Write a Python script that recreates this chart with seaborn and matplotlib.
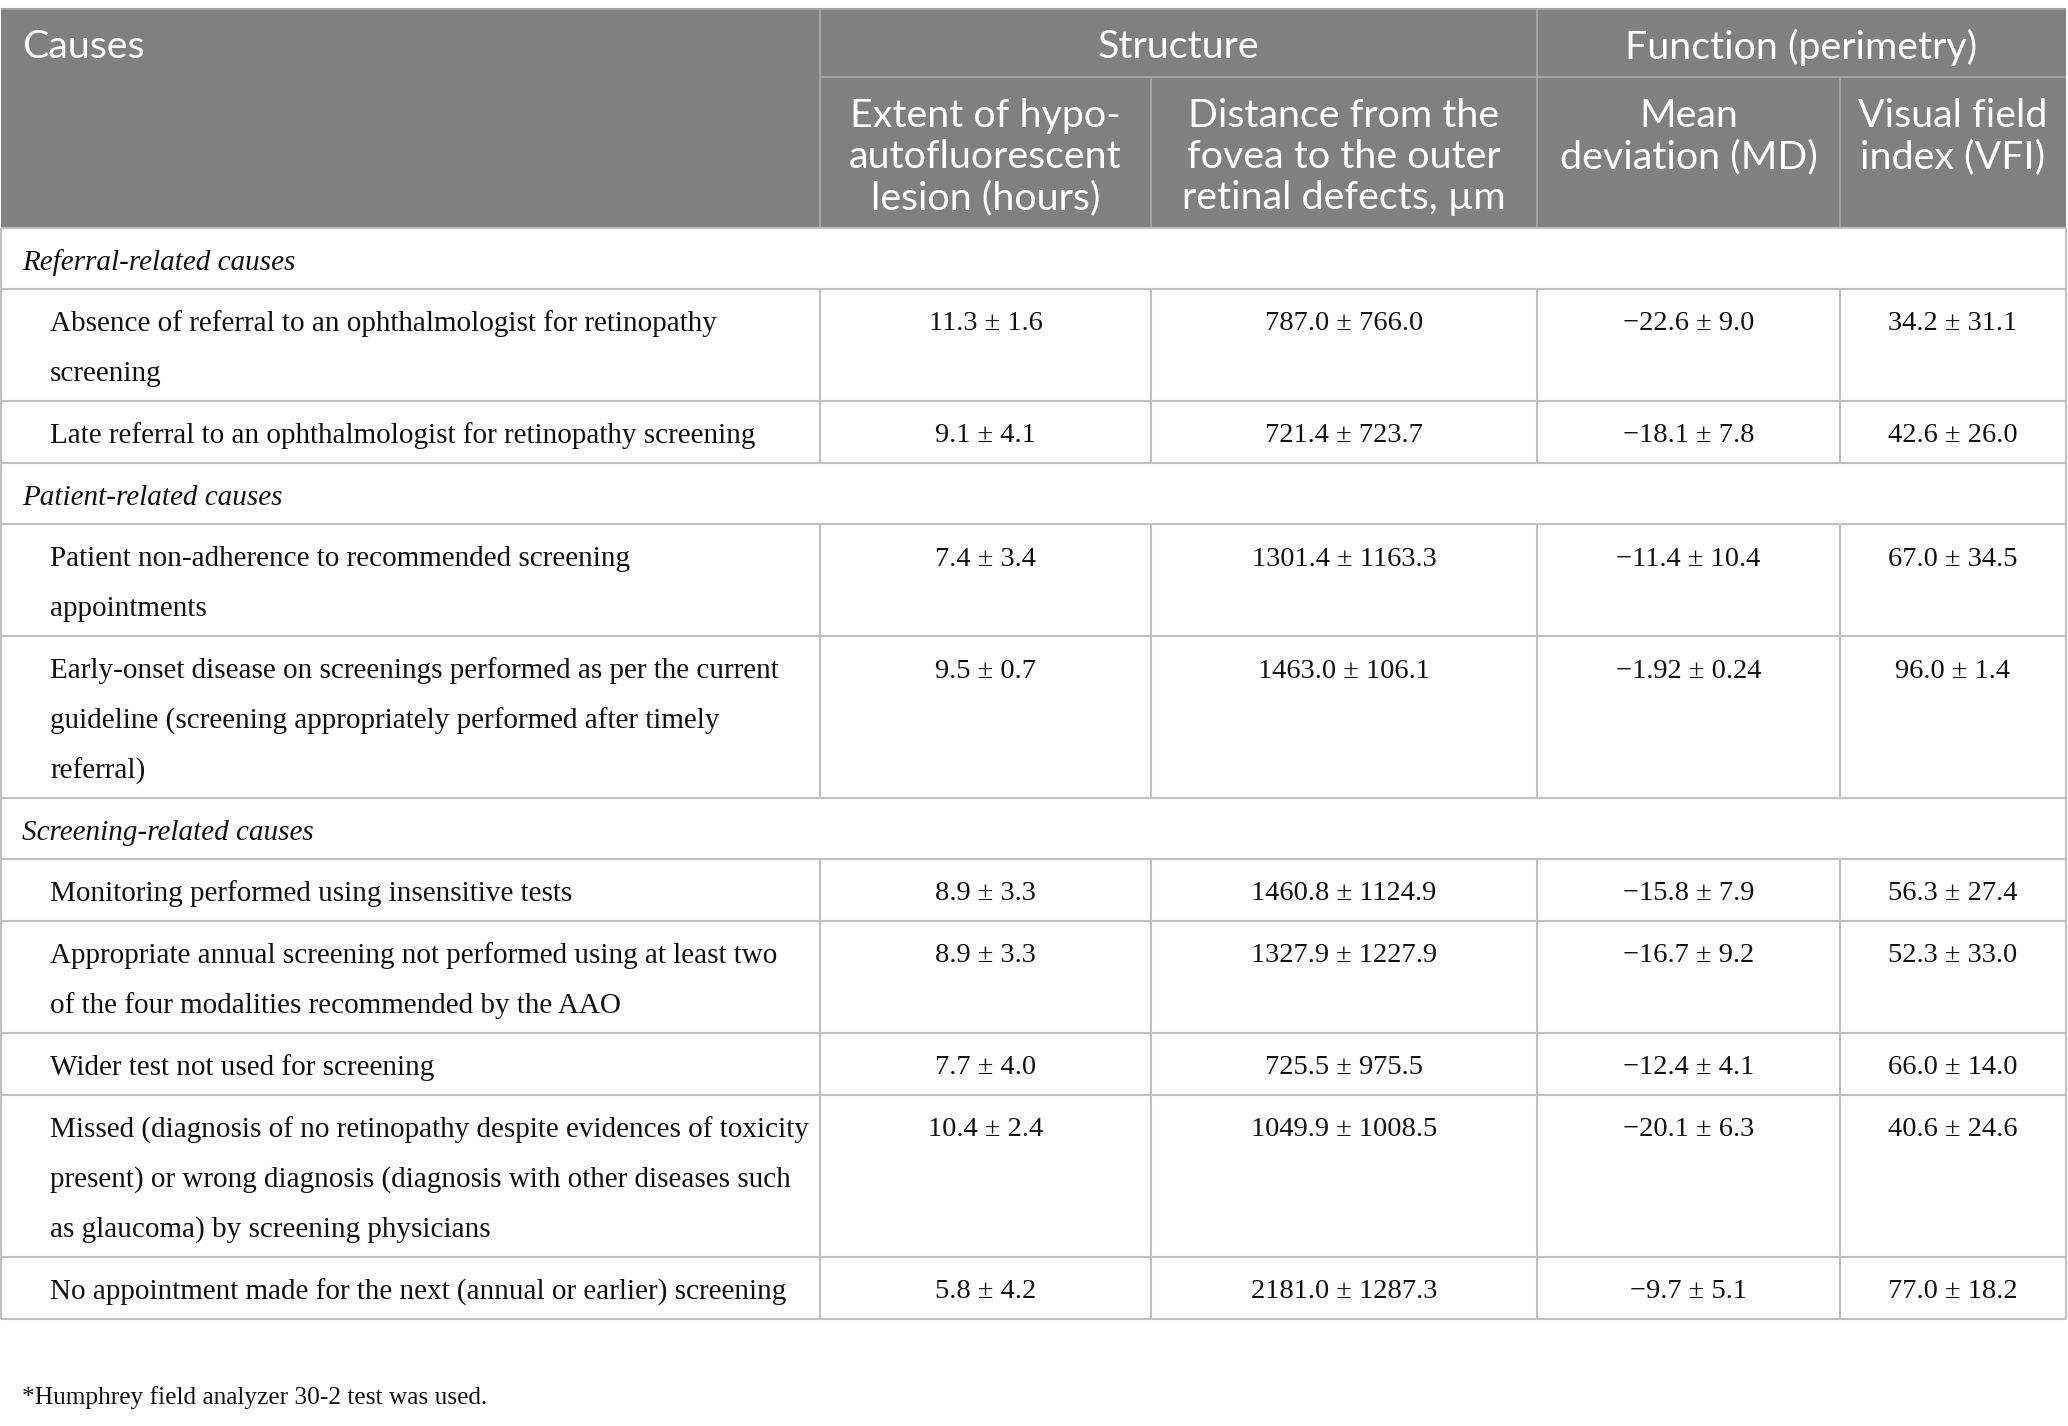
import matplotlib
matplotlib.use("Agg")
import matplotlib.pyplot as plt
import seaborn as sns
from matplotlib.patches import Rectangle

# ---------------- data ----------------
group_header = ["Structure", "Function (perimetry)"]
col_headers = ["Causes",
               "Extent of hypo-\nautofluorescent\nlesion (hours)",
               "Distance from the\nfovea to the outer\nretinal defects, µm",
               "Mean\ndeviation (MD)",
               "Visual field\nindex (VFI)"]
sections = ["Referral-related causes", "Patient-related causes", "Screening-related causes"]
section_of_row = [0, 0, 1, 1, 2, 2, 2, 2, 2]
causes = [
    "Absence of referral to an ophthalmologist for retinopathy\nscreening",
    "Late referral to an ophthalmologist for retinopathy screening",
    "Patient non-adherence to recommended screening\nappointments",
    "Early-onset disease on screenings performed as per the current\nguideline (screening appropriately performed after timely\nreferral)",
    "Monitoring performed using insensitive tests",
    "Appropriate annual screening not performed using at least two\nof the four modalities recommended by the AAO",
    "Wider test not used for screening",
    "Missed (diagnosis of no retinopathy despite evidences of toxicity\npresent) or wrong diagnosis (diagnosis with other diseases such\nas glaucoma) by screening physicians",
    "No appointment made for the next (annual or earlier) screening",
]
extent = ["11.3 ± 1.6", "9.1 ± 4.1", "7.4 ± 3.4", "9.5 ± 0.7", "8.9 ± 3.3",
          "8.9 ± 3.3", "7.7 ± 4.0", "10.4 ± 2.4", "5.8 ± 4.2"]
distance = ["787.0 ± 766.0", "721.4 ± 723.7", "1301.4 ± 1163.3", "1463.0 ± 106.1",
            "1460.8 ± 1124.9", "1327.9 ± 1227.9", "725.5 ± 975.5", "1049.9 ± 1008.5",
            "2181.0 ± 1287.3"]
mean_dev = ["−22.6 ± 9.0", "−18.1 ± 7.8", "−11.4 ± 10.4", "−1.92 ± 0.24", "−15.8 ± 7.9",
            "−16.7 ± 9.2", "−12.4 ± 4.1", "−20.1 ± 6.3", "−9.7 ± 5.1"]
vfi = ["34.2 ± 31.1", "42.6 ± 26.0", "67.0 ± 34.5", "96.0 ± 1.4", "56.3 ± 27.4",
       "52.3 ± 33.0", "66.0 ± 14.0", "40.6 ± 24.6", "77.0 ± 18.2"]
footnote = "*Humphrey field analyzer 30-2 test was used."

# ---------------- layout / style ----------------
W, H = 2068, 1426
col_edges = [1, 820, 1151, 1537, 1840, 2066]
table_top, header_mid, header_bot = 9, 77, 228
line_h = 50
base_row_h = 62
first_line_off = 35
header_fill = "#808080"
header_line = "#a3a3a3"
grid_col = "#c0c0c0"
text_col = "#111111"
sans = ["Lato", "DejaVu Sans"]
serif = ["Liberation Serif", "DejaVu Serif"]
hdr_fs = 28.4
body_fs = 21
value_fs = 20.5

sns.set_theme(style="white")
plt.rcParams["font.family"] = serif

fig = plt.figure(figsize=(W / 100, H / 100), dpi=100)
ax = fig.add_axes([0, 0, 1, 1])
ax.set_xlim(0, W)
ax.set_ylim(H, 0)
ax.axis("off")

# header block
ax.add_patch(Rectangle((col_edges[0], table_top), col_edges[-1] - col_edges[0],
                       header_bot - table_top, facecolor=header_fill, edgecolor="none"))
ax.hlines(header_mid, col_edges[1], col_edges[-1], color=header_line, lw=1.5)
ax.vlines(col_edges[1], table_top, header_bot, color=header_line, lw=1.5)
ax.vlines(col_edges[3], table_top, header_bot, color=header_line, lw=1.5)
ax.vlines([col_edges[2], col_edges[4]], header_mid, header_bot, color=header_line, lw=1.5)
ax.hlines(table_top, col_edges[0], col_edges[-1], color=header_line, lw=1.5)

hdr_y = (table_top + header_mid) / 2 + 4
ax.text(22, hdr_y, col_headers[0], color="white", fontsize=hdr_fs, family=sans,
        ha="left", va="center")
ax.text((col_edges[1] + col_edges[3]) / 2, hdr_y, group_header[0], color="white",
        fontsize=hdr_fs, family=sans, ha="center", va="center")
ax.text((col_edges[3] + col_edges[5]) / 2, hdr_y, group_header[1], color="white",
        fontsize=hdr_fs, family=sans, ha="center", va="center")
for c in range(1, 5):
    cx = (col_edges[c] + col_edges[c + 1]) / 2
    for i, ln in enumerate(col_headers[c].split("\n")):
        ax.text(cx, header_mid + 39 + 41 * i, ln, color="white", fontsize=hdr_fs,
                family=sans, ha="center", va="center")

# body rows
y = header_bot
hlines_y = [header_bot]
prev_sec = -1
for r, cause in enumerate(causes):
    if section_of_row[r] != prev_sec:
        prev_sec = section_of_row[r]
        ax.text(22, y + first_line_off, sections[prev_sec], fontsize=body_fs,
                style="italic", ha="left", va="center", color=text_col)
        y += base_row_h - 1
        hlines_y.append(y)
    lines = cause.split("\n")
    rh = base_row_h + line_h * (len(lines) - 1)
    for i, ln in enumerate(lines):
        ax.text(50, y + first_line_off + line_h * i, ln, fontsize=body_fs,
                ha="left", va="center", color=text_col)
    for c, vals in zip(range(1, 5), [extent, distance, mean_dev, vfi]):
        cx = (col_edges[c] + col_edges[c + 1]) / 2
        ax.text(cx, y + first_line_off, vals[r], fontsize=value_fs,
                ha="center", va="center", color=text_col)
    ax.vlines(col_edges[1:-1], y, y + rh, color=grid_col, lw=1.5)
    y += rh
    hlines_y.append(y)

ax.hlines(hlines_y, col_edges[0], col_edges[-1], color=grid_col, lw=1.5)
ax.vlines([col_edges[0], col_edges[-1]], header_bot, y, color=grid_col, lw=1.5)

ax.text(22, 1398, footnote, fontsize=18.3, ha="left", va="center", color=text_col)

fig.savefig("out.png", dpi=100, facecolor="white")
